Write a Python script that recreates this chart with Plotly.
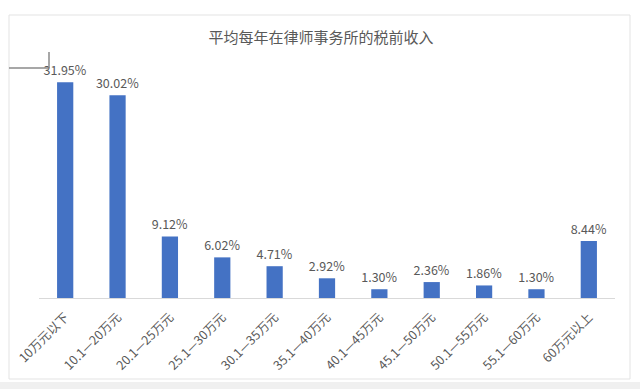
import plotly.graph_objects as go

categories = ["10万元以下", "10.1—20万元", "20.1—25万元", "25.1—30万元", "30.1—35万元",
              "35.1—40万元", "40.1—45万元", "45.1—50万元", "50.1—55万元", "55.1—60万元", "60万元以上"]
values = [31.95, 30.02, 9.12, 6.02, 4.71, 2.92, 1.30, 2.36, 1.86, 1.30, 8.44]
title_text = "平均每年在律师事务所的税前收入"

FONT = "Noto Sans CJK SC, Noto Sans, sans-serif"
L, R, T, B = 39, 25, 55, 91
W, H = 640, 389
pw, ph = W - L - R, H - T - B

def px(x):
    return (x - L) / pw

def py(y):
    return (H - B - y) / ph

fig = go.Figure(go.Bar(
    x=categories, y=values,
    marker=dict(color="#4472C4", line=dict(width=0)),
    text=[f"{v:.2f}%" for v in values],
    textposition="outside",
    constraintext="none",
    textfont=dict(size=12.5, color="#595959", family=FONT),
    cliponaxis=False,
))

shapes = [
    dict(type="rect", xref="paper", yref="paper", x0=px(9), x1=px(630), y0=py(379), y1=py(15),
         line=dict(color="#e3e3e3", width=1), layer="below"),
    dict(type="rect", xref="paper", yref="paper", x0=px(0), x1=px(640), y0=py(389), y1=py(382),
         line=dict(width=0), fillcolor="#f0f0f0", layer="below"),
    dict(type="line", xref="paper", yref="paper", x0=px(9), x1=px(48), y0=py(68), y1=py(68),
         line=dict(color="#8a8a8a", width=1.5)),
    dict(type="line", xref="paper", yref="paper", x0=px(49), x1=px(49), y0=py(52), y1=py(68),
         line=dict(color="#8a8a8a", width=1.5)),
]

fig.update_layout(
    width=W, height=H,
    margin=dict(l=L, r=R, t=T, b=B),
    paper_bgcolor="white", plot_bgcolor="white",
    font=dict(family=FONT, color="#595959"),
    title=dict(text=title_text, x=321 / W, xanchor="center", y=1 - 38 / H, yanchor="middle",
               yref="container", font=dict(size=15, color="#595959", family=FONT)),
    bargap=0.69,
    showlegend=False,
    shapes=shapes,
    xaxis=dict(showline=True, linecolor="#d9d9d9", linewidth=1, ticks="", tickangle=-45,
               automargin=False, ticklabelstandoff=6,
               tickfont=dict(size=12.5, color="#595959", family=FONT), showgrid=False),
    yaxis=dict(range=[0, 36], visible=False, showgrid=False, zeroline=False),
)

fig.write_html("out.html", config={"displayModeBar": False},
               post_script="document.body.style.margin='0';document.body.style.padding='0';")
